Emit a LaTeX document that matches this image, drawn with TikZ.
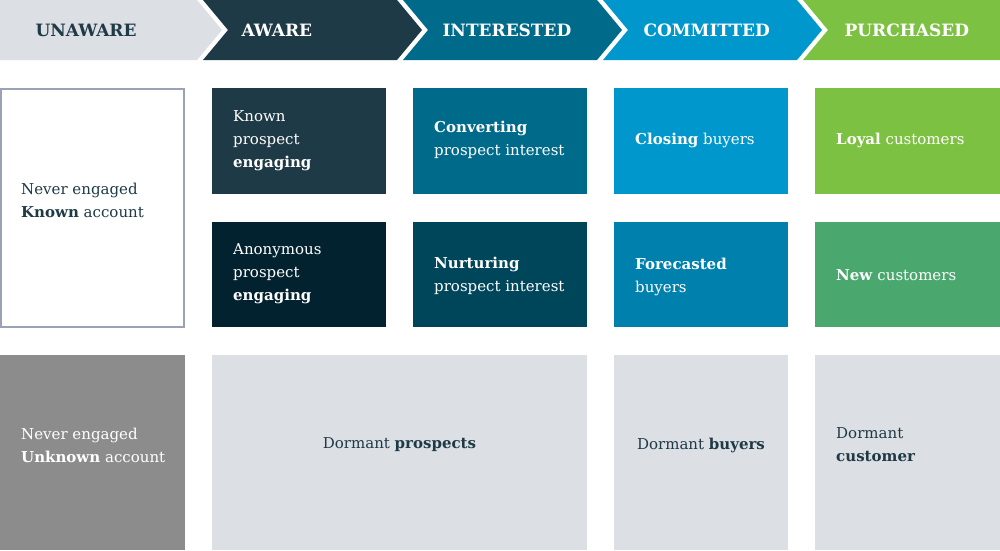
\documentclass[tikz,border=0pt]{standalone}
\usepackage{fontspec}
\setmainfont{DejaVu Serif}
\definecolor{navy}{HTML}{1E3A46}
\definecolor{navyd}{HTML}{03222F}
\definecolor{teal}{HTML}{006A8A}
\definecolor{teald}{HTML}{00465A}
\definecolor{cyan1}{HTML}{0097CC}
\definecolor{cyand}{HTML}{0081AD}
\definecolor{green1}{HTML}{7DC142}
\definecolor{green2}{HTML}{4AA86F}
\definecolor{lgray}{HTML}{DCDFE3}
\definecolor{dgray}{HTML}{8C8C8C}
\definecolor{bord}{HTML}{9AA3B5}
\begin{document}
\begin{tikzpicture}[x=1pt,y=-1pt,
  hdr/.style={font=\fontsize{17}{20}\selectfont\bfseries, anchor=west},
  box/.style={anchor=north west, inner sep=0pt, minimum height=#1, text width=0pt},
  txt/.style={anchor=west, align=left, font=\fontsize{15}{23}\selectfont, inner sep=0pt}]
\useasboundingbox (0,0) rectangle (1000,550);
\fill[white] (0,0) rectangle (1000,550);
% header chevrons
\fill[lgray] (0,0) -- (197,0) -- (222,30) -- (197,60) -- (0,60) -- cycle;
\fill[navy] (203,0) -- (397,0) -- (422,30) -- (397,60) -- (203,60) -- (228,30) -- cycle;
\fill[teal] (403,0) -- (597,0) -- (622,30) -- (597,60) -- (403,60) -- (428,30) -- cycle;
\fill[cyan1] (603,0) -- (797,0) -- (822,30) -- (797,60) -- (603,60) -- (628,30) -- cycle;
\fill[green1] (803,0) -- (1000,0) -- (1000,60) -- (803,60) -- (828,30) -- cycle;
\node[hdr, text=navy] (h1) at (32,30) {UNAWARE};
\node[hdr, text=white] (h2) at (238,30) {AWARE};
\node[hdr, text=white] (h3) at (439,30) {INTERESTED};
\node[hdr, text=white] (h4) at (640,30) {COMMITTED};
\node[hdr, text=white] (h5) at (841,30) {PURCHASED};
% boxes
\draw[bord, line width=1.5pt, fill=white] (1,89) rectangle (184,327);
\fill[navy] (212,88) rectangle (386,194);
\fill[navyd] (212,222) rectangle (386,327);
\fill[teal] (413,88) rectangle (587,194);
\fill[teald] (413,222) rectangle (587,327);
\fill[cyan1] (614,88) rectangle (788,194);
\fill[cyand] (614,222) rectangle (788,327);
\fill[green1] (815,88) rectangle (1000,194);
\fill[green2] (815,222) rectangle (1000,327);
\fill[dgray] (0,355) rectangle (185,550);
\fill[lgray] (212,355) rectangle (587,550);
\fill[lgray] (614,355) rectangle (788,550);
\fill[lgray] (815,355) rectangle (1000,550);
% texts
\node[txt, text=navy] (t1) at (21,200) {Never engaged\\\textbf{Known} account};
\node[txt, text=white] (t2) at (233,141) {Known\\prospect\\\textbf{engaging}};
\node[txt, text=white] (t3) at (233,274) {Anonymous\\prospect\\\textbf{engaging}};
\node[txt, text=white] (t4) at (434,140) {\textbf{Converting}\\prospect interest};
\node[txt, text=white] (t5) at (434,276) {\textbf{Nurturing}\\prospect interest};
\node[txt, text=white] (t6) at (635,140) {\textbf{Closing} buyers};
\node[txt, text=white] (t7) at (635,277) {\textbf{Forecasted}\\buyers};
\node[txt, text=white] (t8) at (836,140) {\textbf{Loyal} customers};
\node[txt, text=white] (t9) at (836,275) {\textbf{New} customers};
\node[txt, text=white] (t10) at (21,445) {Never engaged\\\textbf{Unknown} account};
\node[font=\fontsize{15}{23}\selectfont, text=navy, inner sep=0pt] (t11) at (399.5,445) {Dormant \textbf{prospects}};
\node[font=\fontsize{15}{23}\selectfont, text=navy, inner sep=0pt] (t12) at (701,445) {Dormant \textbf{buyers}};
\node[txt, text=navy] (t13) at (836,445) {Dormant\\\textbf{customer}};
\end{tikzpicture}
\end{document}
